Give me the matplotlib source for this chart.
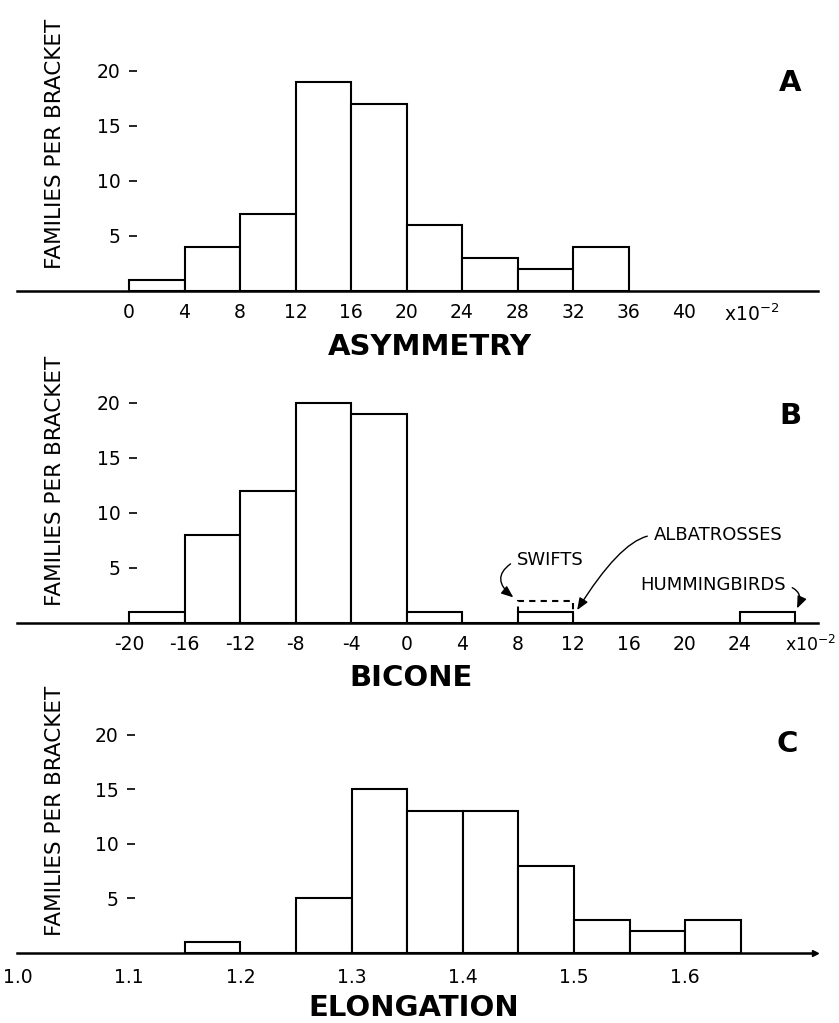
import numpy as np
import matplotlib
matplotlib.use("Agg")
import matplotlib.pyplot as plt

# ---------------- data ----------------
asym_edges = [0, 4, 8, 12, 16, 20, 24, 28, 32]            # bin left edges (x10^-2)
asym_counts = [1, 4, 7, 19, 17, 6, 3, 2, 4]
asym_ticks = [0, 4, 8, 12, 16, 20, 24, 28, 32, 36, 40]

bicone_edges = [-20, -16, -12, -8, -4, 0, 4, 8, 12, 16, 20, 24]
bicone_counts = [1, 8, 12, 20, 19, 1, 0, 1, 0, 0, 0, 1]
bicone_ticks = [-20, -16, -12, -8, -4, 0, 4, 8, 12, 16, 20, 24]
swifts_edge = [8]
swifts_count = [2]

elong_edges = [1.15, 1.20, 1.25, 1.30, 1.35, 1.40, 1.45, 1.50, 1.55, 1.60]
elong_counts = [1, 0, 5, 15, 13, 13, 8, 3, 2, 3]
elong_ticks = [1.0, 1.1, 1.2, 1.3, 1.4, 1.5, 1.6]

y_ticks = [5, 10, 15, 20]

# ---------------- figure ----------------
W, H = 839, 1023
fig = plt.figure(figsize=(W / 100, H / 100), dpi=100)
plt.rcParams['font.family'] = ['DejaVu Sans']

LW = 1.5
TICK_FS = 13.5


def make_ax(left_px, right_px, base_px, px_per_y, ylim_top, xlim):
    top_px = base_px - ylim_top * px_per_y
    ax = fig.add_axes([left_px / W, (H - base_px) / H,
                       (right_px - left_px) / W, (base_px - top_px) / H])
    ax.set_xlim(*xlim)
    ax.set_ylim(0, ylim_top)
    ax.patch.set_alpha(0)
    for s in ['top', 'right']:
        ax.spines[s].set_visible(False)
    ax.spines['bottom'].set_linewidth(LW + 0.3)
    ax.tick_params(axis='x', length=0, pad=9, labelsize=TICK_FS)
    ax.tick_params(axis='y', length=6, width=1.2, direction='out', pad=6,
                   labelsize=TICK_FS)
    ax.set_yticks(y_ticks)
    return ax


def place_yspine(ax, xval):
    ax.spines['left'].set_position(('data', xval))
    ax.spines['left'].set_visible(False)


# ---- Panel A ----
pxA = 13.875   # px per unit
axA = make_ax(17, 818, 290.7, 11.0, 21,
              ((17 - 129) / pxA, (818 - 129) / pxA))
axA.bar(asym_edges, asym_counts, width=4, align='edge', facecolor='white',
        edgecolor='black', linewidth=LW, zorder=3)
axA.set_xticks(asym_ticks)
axA.set_xticklabels([str(t) for t in asym_ticks])
place_yspine(axA, (137 - 129) / pxA)
axA.annotate('x10$^{-2}$', xy=(44.9, 0), xycoords='data', xytext=(0, -17),
             textcoords='offset points', ha='center', va='center',
             fontsize=TICK_FS, annotation_clip=False)

# ---- Panel B ----
axB = make_ax(17, 818, 622.7, 11.0, 21,
              ((17 - 129) / pxA - 20, (818 - 129) / pxA - 20))
axB.bar(swifts_edge, swifts_count, width=4, align='edge', facecolor='none',
        edgecolor='black', linewidth=LW, linestyle=(0, (3, 2.5)), zorder=2)
axB.bar(bicone_edges, bicone_counts, width=4, align='edge', facecolor='white',
        edgecolor='black', linewidth=LW, zorder=3)
axB.set_xticks(bicone_ticks)
axB.set_xticklabels([str(t) for t in bicone_ticks])
place_yspine(axB, (137 - 129) / pxA - 20)
fig.text(836 / W, 1 - 645 / H, 'x10$^{-2}$', ha='right', va='center',
         fontsize=12.5)

ann_fs = 13
arrow_kw = dict(color='black', lw=1.0, shrinkA=3, shrinkB=0)
head = '-|>,head_length=0.55,head_width=0.22'
axB.annotate('ALBATROSSES', xy=(12.3, 1.15), xytext=(17.85, 7.95),
             fontsize=ann_fs, ha='left', va='center',
             arrowprops=dict(arrowstyle=head, relpos=(0, 0.5),
                             connectionstyle='angle3,angleA=0,angleB=58',
                             **arrow_kw))
axB.annotate('SWIFTS', xy=(7.7, 2.3), xytext=(7.95, 5.7),
             fontsize=ann_fs, ha='left', va='center',
             arrowprops=dict(arrowstyle=head, relpos=(0, 0.5),
                             connectionstyle='arc3,rad=0.75', **arrow_kw))
axB.annotate('HUMMINGBIRDS', xy=(28.15, 1.3), xytext=(16.83, 3.4),
             fontsize=ann_fs, ha='left', va='center',
             arrowprops=dict(arrowstyle=head, relpos=(1, 0.5),
                             connectionstyle='arc3,rad=-0.6', **arrow_kw))

# ---- Panel C ----
pxC = 1112.0
axC = make_ax(17, 815, 952.7, 10.9, 20.7,
              (1.0 + (17 - 18) / pxC, 1.0 + (815 - 18) / pxC))
axC.bar(elong_edges, elong_counts, width=0.05, align='edge', facecolor='white',
        edgecolor='black', linewidth=LW, zorder=3)
axC.set_xticks(elong_ticks)
axC.set_xticklabels([f"{t:.1f}" for t in elong_ticks])
axC.tick_params(axis='x', pad=11)
place_yspine(axC, 1.0 + (135 - 18) / pxC)
axC.plot([1], [0], marker='>', color='black', markersize=4,
         transform=axC.transAxes, clip_on=False)

# ---- texts ----
for yc in (143.5, 481, 811):
    fig.text(55 / W, 1 - yc / H, 'FAMILIES PER BRACKET', rotation=90,
             ha='center', va='center', fontsize=15.5)

for lab, (xc, yc) in zip(['A', 'B', 'C'], [(790, 83), (790, 416), (787, 744)]):
    fig.text(xc / W, 1 - yc / H, lab, ha='center', va='center',
             fontsize=21, fontweight='bold')

for lab, (xc, yc) in zip(['ASYMMETRY', 'BICONE', 'ELONGATION'],
                         [(430, 347), (411, 678), (414, 1008)]):
    fig.text(xc / W, 1 - yc / H, lab, ha='center', va='center',
             fontsize=21, fontweight='bold')

fig.savefig('out.png', dpi=100)
